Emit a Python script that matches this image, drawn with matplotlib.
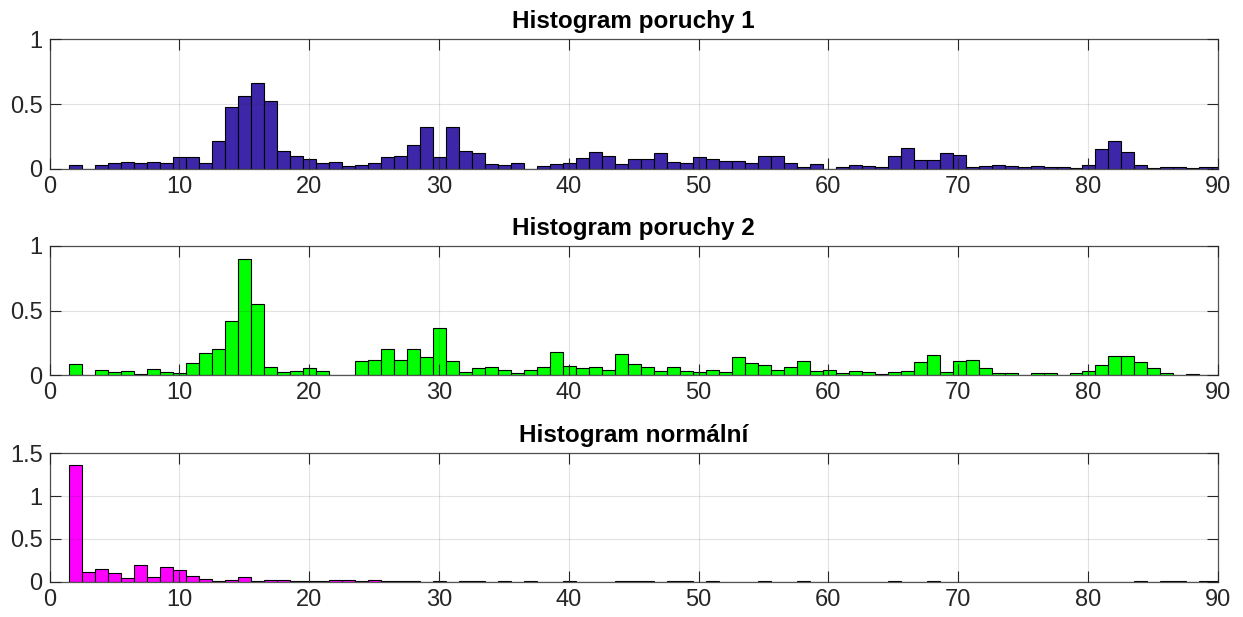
import numpy as np
import matplotlib.pyplot as plt

plt.rcParams['font.family'] = ['Liberation Sans', 'DejaVu Sans']

# histogram bins (left edge of first bin, bin width, count of bins)
bin_start = 1.47
bin_width = 1.0015
n_bins = 89

poruchy1 = [0.031, 0.0, 0.031, 0.044, 0.054, 0.046, 0.054, 0.044, 0.093, 0.093,
            0.044, 0.214, 0.479, 0.564, 0.665, 0.528, 0.139, 0.098, 0.075, 0.044,
            0.054, 0.023, 0.031, 0.044, 0.093, 0.098, 0.188, 0.325, 0.093, 0.322,
            0.139, 0.121, 0.036, 0.028, 0.049, 0.0, 0.021, 0.036, 0.044, 0.085,
            0.131, 0.098, 0.036, 0.075, 0.075, 0.126, 0.054, 0.046, 0.093, 0.075,
            0.059, 0.059, 0.044, 0.103, 0.098, 0.044, 0.018, 0.036, 0.0, 0.015,
            0.031, 0.023, 0.018, 0.098, 0.160, 0.072, 0.072, 0.126, 0.108, 0.018,
            0.023, 0.028, 0.023, 0.013, 0.021, 0.013, 0.013, 0.005, 0.028, 0.152,
            0.214, 0.131, 0.028, 0.005, 0.018, 0.013, 0.005, 0.013, 0.013]

poruchy2 = [0.086, 0.0, 0.039, 0.023, 0.031, 0.010, 0.047, 0.023, 0.018, 0.096,
            0.172, 0.201, 0.422, 0.896, 0.555, 0.065, 0.023, 0.034, 0.060, 0.031,
            0.003, 0.003, 0.107, 0.120, 0.206, 0.120, 0.201, 0.138, 0.365, 0.107,
            0.029, 0.057, 0.068, 0.039, 0.016, 0.044, 0.063, 0.177, 0.070, 0.057,
            0.063, 0.039, 0.164, 0.086, 0.068, 0.034, 0.063, 0.034, 0.029, 0.044,
            0.029, 0.143, 0.094, 0.083, 0.044, 0.063, 0.107, 0.034, 0.039, 0.016,
            0.034, 0.023, 0.008, 0.023, 0.034, 0.102, 0.156, 0.023, 0.107, 0.115,
            0.060, 0.016, 0.016, 0.003, 0.016, 0.016, 0.003, 0.016, 0.034, 0.078,
            0.151, 0.146, 0.102, 0.055, 0.016, 0.003, 0.013, 0.003, 0.003]

normalni = [1.359, 0.113, 0.145, 0.105, 0.039, 0.191, 0.051, 0.172, 0.133, 0.0625,
            0.027, 0.004, 0.016, 0.055, 0.004, 0.016, 0.016, 0.004, 0.004, 0.004,
            0.016, 0.016, 0.004, 0.016, 0.004, 0.004, 0.004, 0.0, 0.004, 0.0,
            0.012, 0.004, 0.0, 0.004, 0.0, 0.004, 0.0, 0.0, 0.004, 0.0,
            0.0, 0.0, 0.010, 0.004, 0.004, 0.0, 0.010, 0.010, 0.0, 0.004,
            0.0, 0.0, 0.0, 0.004, 0.0, 0.0, 0.004, 0.0, 0.0, 0.0,
            0.0, 0.0, 0.0, 0.004, 0.0, 0.0, 0.004, 0.0, 0.0, 0.0,
            0.0, 0.0, 0.0, 0.0, 0.0, 0.0, 0.0, 0.0, 0.0, 0.0,
            0.0, 0.0, 0.004, 0.0, 0.004, 0.004, 0.0, 0.010, 0.010]

titles = ['Histogram poruchy 1', 'Histogram poruchy 2', 'Histogram normální']
colors = ['#3D26A8', '#00FF00', '#FF00FF']
series = [poruchy1, poruchy2, normalni]
ylims = [1, 1, 1.5]
yticks = [[0, 0.5, 1], [0, 0.5, 1], [0, 0.5, 1, 1.5]]

edges = bin_start + np.arange(n_bins) * bin_width

fig = plt.figure(figsize=(12.43, 6.17), dpi=100)
axes_pos = [[0.0399, 0.7261, 0.9397, 0.2102],
            [0.0399, 0.3917, 0.9397, 0.2096],
            [0.0399, 0.0572, 0.9397, 0.2081]]

axis_col = '#262626'
for pos, t, c, vals, yl, yt in zip(axes_pos, titles, colors, series, ylims, yticks):
    ax = fig.add_axes(pos)
    ax.bar(edges, vals, width=bin_width, align='edge', color=c,
           edgecolor='black', linewidth=0.8, zorder=2)
    ax.set_xlim(0, 90)
    ax.set_ylim(0, yl)
    ax.set_xticks(np.arange(0, 91, 10))
    ax.set_yticks(yt)
    ax.set_yticklabels([f'{v:g}' for v in yt])
    ax.grid(True, color=axis_col, alpha=0.13, linewidth=0.8, zorder=3)
    ax.set_axisbelow(False)
    ax.tick_params(direction='in', length=8, width=0.8, top=True, right=True,
                   labelsize=17, colors=axis_col, pad=5)
    for s in ax.spines.values():
        s.set_color('#555555')
        s.set_linewidth(0.9)
    ax.set_title(t, fontsize=17.5, fontweight='bold', color='black', pad=8)

fig.savefig('out.png', dpi=100)
